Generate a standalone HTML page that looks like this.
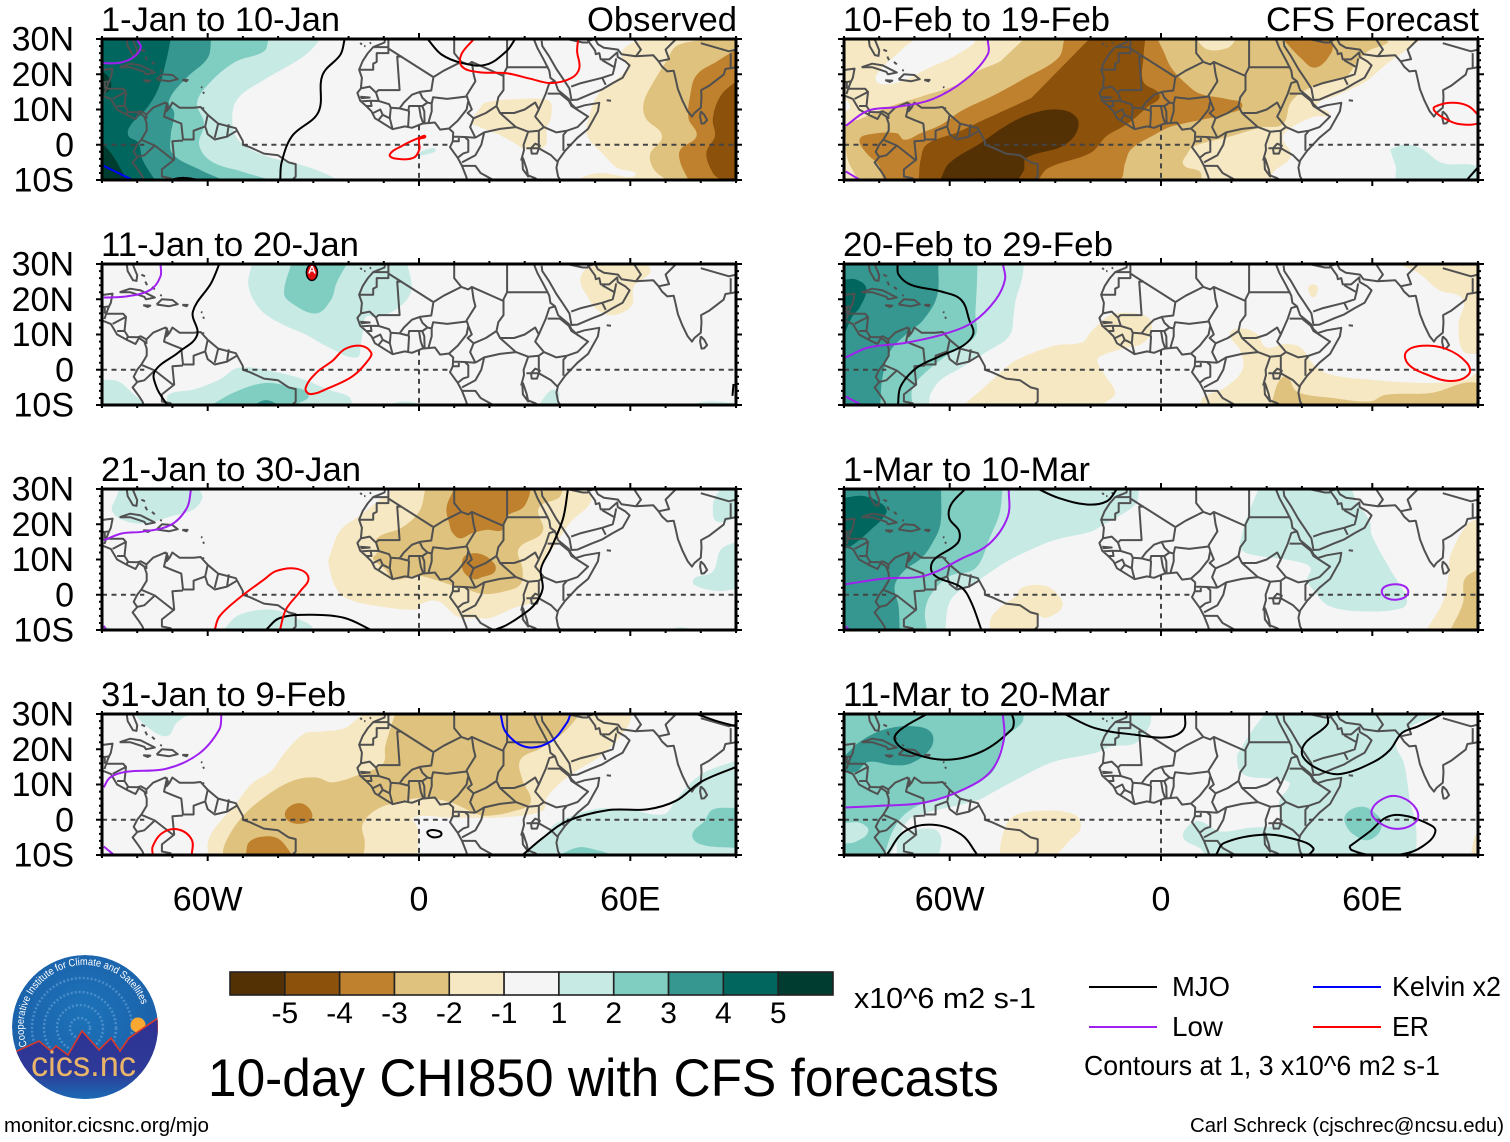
<!DOCTYPE html>
<html lang="en">
<head>
<meta charset="utf-8">
<title>10-day CHI850 with CFS forecasts</title>
<style>
html,body{margin:0;padding:0;background:#fff}
svg{display:block}
text{font-family:"Liberation Sans",sans-serif;fill:#000}
</style>
</head>
<body>
<svg id="chart" xmlns="http://www.w3.org/2000/svg" width="1510" height="1142" viewBox="0 0 1510 1142">
<rect width="1510" height="1142" fill="#fff"/>
<defs>
<radialGradient id="logoSky" cx="50%" cy="40%" r="60%"><stop offset="0" stop-color="#1c72b8"/><stop offset="1" stop-color="#1b5fa8"/></radialGradient>
<linearGradient id="logoGround" x1="0" y1="0" x2="0" y2="1"><stop offset="0" stop-color="#2e3192"/><stop offset=".62" stop-color="#2e3a98"/><stop offset="1" stop-color="#1a72b8"/></linearGradient>
<clipPath id="logoClip"><ellipse cx="85" cy="1027" rx="73" ry="72"/></clipPath>
<path id="logoArc" d="M27,1046 A61,61 0 1 1 144,1012"/>
</defs>
<g clip-path="url(#logoClip)">
<ellipse cx="85" cy="1027" rx="73" ry="72" fill="url(#logoSky)"/>
<g fill="none" stroke="#6fa8dc" stroke-opacity=".55" stroke-dasharray="2 2" stroke-width="2.5">
<circle cx="80" cy="1028" r="10"/><circle cx="80" cy="1028" r="23"/><circle cx="80" cy="1028" r="36"/><circle cx="82" cy="1028" r="50"/>
</g>
<circle cx="138" cy="1025" r="7.5" fill="#f9a832"/>
<path d="M12,1055 L17,1051 L39,1041 L51,1051 L56,1046 L68,1055 L82,1031 L99,1050 L111,1038 L120,1051 L129,1038 L158,1018 L160,1104 L10,1104 Z" fill="url(#logoGround)" stroke="#d8392b" stroke-width="1.6"/>
<text x="31" y="1076" font-size="35" style="fill:#e9b569" textLength="105" lengthAdjust="spacingAndGlyphs">cics.nc</text>
<text font-size="10.5" style="fill:#fff"><textPath href="#logoArc" textLength="190" lengthAdjust="spacingAndGlyphs">Cooperative Institute for Climate and Satellites</textPath></text>
</g>
<g id="panels"></g>
<g id="colorbar"></g>
<text x="854" y="1008" font-size="29" textLength="182" lengthAdjust="spacingAndGlyphs">x10^6 m2 s-1</text>
<text x="208" y="1096" font-size="53" textLength="791" lengthAdjust="spacingAndGlyphs">10-day CHI850 with CFS forecasts</text>
<g>
<line x1="1089" x2="1157" y1="987" y2="987" stroke="#000" stroke-width="2"/>
<text x="1172" y="996" font-size="28" textLength="58" lengthAdjust="spacingAndGlyphs">MJO</text>
<line x1="1313" x2="1381" y1="987" y2="987" stroke="#0000ff" stroke-width="2"/>
<text x="1392" y="996" font-size="28" textLength="109" lengthAdjust="spacingAndGlyphs">Kelvin x2</text>
<line x1="1089" x2="1157" y1="1027" y2="1027" stroke="#a020f0" stroke-width="2"/>
<text x="1172" y="1036" font-size="28" textLength="51" lengthAdjust="spacingAndGlyphs">Low</text>
<line x1="1313" x2="1381" y1="1027" y2="1027" stroke="#ff0000" stroke-width="2"/>
<text x="1392" y="1036" font-size="28" textLength="37" lengthAdjust="spacingAndGlyphs">ER</text>
<text x="1084" y="1075" font-size="28" textLength="356" lengthAdjust="spacingAndGlyphs">Contours at 1, 3 x10^6 m2 s-1</text>
</g>
<text x="4" y="1132" font-size="20" textLength="205" lengthAdjust="spacingAndGlyphs">monitor.cicsnc.org/mjo</text>
<text x="1190" y="1132" font-size="20" textLength="314" lengthAdjust="spacingAndGlyphs">Carl Schreck (cjschrec@ncsu.edu)</text>
</svg>
<script>
// ---- scale / legend data ----
const contourLevels=[-5,-4,-3,-2,-1,0,1,2,3,4,5];
const levelColors=['#543005','#8c510a','#bf812d','#dfc27d','#f6e8c3','#f5f5f5','#c7eae5','#80cdc1','#35978f','#01665e','#003c30'];
const colorbarTicks=[-5,-4,-3,-2,-1,1,2,3,4,5];
const lonTicks=[-60,0,60];
const lonTickLabels=['60W','0','60E'];
const latTicks=[30,20,10,0,-10];
const latTickLabels=['30N','20N','10N','0','10S'];
const waveColors={MJO:'#000000',Low:'#a020f0',Kelvin:'#0000ff',ER:'#ff0000'};
const periodTitles=['1-Jan to 10-Jan','11-Jan to 20-Jan','21-Jan to 30-Jan','31-Jan to 9-Feb','10-Feb to 19-Feb','20-Feb to 29-Feb','1-Mar to 10-Mar','11-Mar to 20-Mar'];
const TL=[-96,36],TR=[96,36],BL=[-96,-16],BR=[96,-16];

// ---- CHI850 anomaly contour regions (lon, lat) ----
const jan01Fills=[
{l:1,p:[[-28,30],[-31,26.5],[-35,23.6],[-44,18.4],[-51.5,13],[-53,6.4],[-51,1],[-44,-3],[-32.6,-6],[-27,-8],[-23,-10]],c:[BL,TL]},
{l:2,p:[[-42.7,30],[-44,26.5],[-52,23.6],[-59,18],[-63,12],[-61,6],[-62.4,0],[-59,-4.7],[-50.4,-7.6],[-42,-10]],c:[BL,TL]},
{l:3,p:[[-59,30],[-60,24.6],[-66,19],[-71,12.5],[-69.5,9],[-70.5,2.5],[-70,-2.5],[-62.4,-7],[-55.6,-10]],c:[BL,TL]},
{l:4,p:[[-70.5,30],[-71.6,24.6],[-74,16],[-77.4,10.2],[-82,5.4],[-82.5,2.5],[-79.7,0.6],[-78.5,-4.2],[-75,-10]],c:[BL,TL]},
{l:5,p:[[-90,0.6],[-87,-3],[-83,-10]],c:[BL]},
{l:5,p:[[-90,21],[-88,19],[-87.5,16],[-90,14]],c:[]},
{l:-1,p:[[73,30],[61.5,29.2],[57.5,26],[59,21.7],[51,14.5],[48.4,8.3],[47.8,2.5],[52.4,-2.8],[56.4,-6.6],[61.5,-8],[60.4,-9.2],[51,-8],[44.3,-10]],c:[BR,TR]},
{l:-2,p:[[85.7,30],[73.6,28.3],[70.2,23.7],[66.7,18],[63.8,12],[64.4,7.5],[69,2.5],[65.6,-2.7],[66.7,-7],[70.2,-10]],c:[BR,TR]},
{l:-3,p:[[90,27],[84.5,23.6],[78.8,19.8],[77,14],[76.5,7.5],[78.8,2.5],[74.2,-1.4],[74.2,-5],[76.5,-10]],c:[BR,TR]},
{l:-4,p:[[90,18],[85.7,14],[83.4,7.5],[84,2.5],[81.6,-2.3],[83.4,-8],[85.7,-10]],c:[BR]},
{l:-1,p:[[16.8,9.7],[19,12],[29.4,13],[35.1,13],[37.4,12],[37.4,7.3],[36.3,5],[35.7,-0.4],[30.6,-1.3],[27,0.5],[22.5,3],[16.8,5.2],[15,6.3]]},
{l:1,p:[[0,-2.3],[4.1,-0.9],[4.7,-1.8],[0.6,-3]]}
];
const jan01Waves=[
{t:'MJO',p:[[-21.1,30],[-22.3,25.6],[-27.4,19.8],[-28.6,9.2],[-36,2.5],[-39,-5],[-39.4,-10]]},
{t:'MJO',p:[[2.4,30],[6.4,25.6],[12.2,23.2],[19,22.7],[24.8,26.5],[27.3,30]]},
{t:'MJO',p:[[-71,-10],[-67,-9.4],[-62.4,-10]]},
{t:'Low',p:[[-80.2,30],[-79,27.5],[-81.4,24.6],[-85.4,23.2],[-90,23.2]]},
{t:'Kelvin',p:[[-89.5,-6],[-81.7,-9.8]]},
{t:'ER',p:[[15.6,30],[12,25.6],[12.2,22.2],[16.8,20.6],[24.8,20.3],[31.7,18.7],[37.4,17.5],[43.2,18.9],[45.5,21.7],[44.9,26.5],[45.2,30]]},
{t:'ER',closed:true,p:[[1.8,2.3],[0.1,2],[-5,-0.4],[-8.3,-2.8],[-6.8,-3.9],[-1.6,-3.7],[0.1,-1.3],[0.1,1.6]]}
];

const jan11Fills=[
{l:1,p:[[-47.5,30],[-48.4,23.7],[-45,17],[-38.3,12.6],[-32.6,10.2],[-25.7,6.4],[-17.7,3.5],[-16.5,7.3],[-15.9,11],[-15,15],[-12,15],[-6.2,17.3],[-2.2,22.4],[-3.3,30]],c:[]},
{l:2,p:[[-36.3,30],[-38.3,21.7],[-36,18.8],[-29.2,16],[-25,19.8],[-23.4,24.6],[-20.5,30]],c:[]},
{l:1,p:[[-90,-2.8],[-85.4,-3.3],[-81.4,-6.6],[-77.4,-10]],c:[BL]},
{l:1,p:[[-71.6,-10],[-71,-7],[-63.6,-5.5],[-56.7,-2.8],[-51,0.6],[-39.5,-0.9],[-32.6,-2.8],[-25.7,-5.7],[-20,-7.6],[-18.8,-10]],c:[]},
{l:2,p:[[-59,-10],[-52,-6.2],[-44,-3.8],[-37.2,-4.7],[-31.4,-7.1],[-35,-10]],c:[]},
{l:3,p:[[-47,-10],[-43.5,-8.6],[-39.5,-10]],c:[]},
{l:1,p:[[34,-10],[37.4,-5.9],[39.7,-6.2],[39.2,-10]],c:[]},
{l:1,p:[[76.5,-10],[82.2,-9],[90,-9.5]],c:[BR]},
{l:1,p:[[-9.6,-10],[-3.9,-9],[1.8,-10]],c:[]},
{l:-1,p:[[48.4,30],[45.8,25.6],[47.8,20.8],[50.6,17],[55.2,15.5],[60.4,18.3],[61,23.7],[65.6,27.5],[65,30]],c:[]}
];
const jan11Waves=[
{t:'Low',p:[[-73.4,30],[-73.4,26.5],[-76.2,22.7],[-83,20.8],[-89.5,20.5]]},
{t:'MJO',p:[[-56.7,30],[-59,24.6],[-64.2,16.5],[-63,9.8],[-68.2,5],[-75,-0.4],[-74.5,-5],[-71.6,-9.8]]},
{t:'MJO',p:[[89.3,-4],[89,-7.4]]},
{t:'ER',closed:true,p:[[-16.5,6.8],[-21,5.9],[-24.6,2.5],[-29.2,-0.9],[-32.2,-5.2],[-30.9,-6.9],[-25.7,-5.2],[-18.8,-1.8],[-14.2,3],[-13.6,4.9]]}
];

const jan21Fills=[
{l:1,p:[[-85,30],[-86,27.5],[-87.1,23.7],[-83,20.8],[-77.4,20.3],[-70.5,22.2],[-64.2,24.1],[-61.5,27.5],[-62.4,30]],c:[]},
{l:1,p:[[-55.6,-10],[-51,-5.7],[-41.8,-4.2],[-36,-6.2],[-30.3,-9],[-31.4,-10]],c:[]},
{l:1,p:[[-90,-8.5],[-86.5,-10]],c:[BL]},
{l:1,p:[[85.7,30],[84,27.5],[83.4,24.6],[84.5,20.8],[90,21.7]],c:[TR]},
{l:1,p:[[90,15],[85.7,12.8],[83.4,6.6],[78.2,4.7],[78.2,2.8],[84.5,1.1],[90,1.6]],c:[]},
{l:1,p:[[70.7,-10],[74.2,-9.2],[78.8,-10]],c:[]},
{l:-1,p:[[-7.3,30],[-16.5,22.7],[-22.3,18.3],[-25,12],[-25.7,8.9],[-23.4,1.6],[-20,-1.3],[-11.9,-3.2],[-0.4,-4.2],[0.1,-2.8],[5.3,-1.8],[11,-6.2],[16.8,-6.6],[20.2,-6.6],[27.1,-3.7],[33.4,-1.3],[34.6,5.4],[34.6,8.3],[38.6,14],[43.2,20.8],[48.9,26.5],[47.2,30]],c:[]},
{l:-2,p:[[1.8,30],[0.1,23.7],[-5,19],[-11.9,16],[-11.9,12],[-13,10.2],[-9.6,7.3],[-7.3,4.4],[-0.4,5.4],[4.1,4.4],[9.9,2.5],[13.3,1.6],[18.5,0.2],[24.8,1.1],[28.8,3],[29.4,7.3],[28.3,13],[35.1,17.9],[34,24.6],[39.7,27.5],[40.9,30]],c:[]},
{l:-3,p:[[9.9,30],[7.8,24.6],[8.7,19.8],[9.3,17.9],[11.6,16],[15,17.4],[19.1,18.4],[23.7,18.4],[24.8,22.2],[29.4,24.6],[31.1,27.5],[31.7,30]],c:[]},
{l:-3,p:[[12.2,9.2],[13.3,11.2],[17.4,11.6],[21.4,8.8],[21.4,6.4],[17.9,5],[15.6,4.4],[12.8,6.3]]}
];
const jan21Waves=[
{t:'Low',p:[[-64.7,30],[-65.9,24.6],[-70.5,19.8],[-78.5,17.9],[-84.3,17.4],[-89.5,15.5]]},
{t:'Low',p:[[-89.5,-8.8],[-88.8,-10]]},
{t:'MJO',p:[[42.3,30],[40.9,21.7],[37.4,13],[34.6,7.3],[35.1,1.6],[32.8,-2.8],[29.4,-5.7],[24.8,-8.6],[21.4,-10]]},
{t:'MJO',p:[[-43.5,-10],[-39.5,-6.6],[-30.3,-5.7],[-21.1,-6.6],[-13.6,-10]]},
{t:'ER',p:[[-58,-10],[-56.7,-6.2],[-51,-0.9],[-44,4.3],[-40.6,6.7],[-34.9,7.4],[-31.4,4.9],[-33.7,1],[-37.8,-4.2],[-39.5,-10]]}
];

const jan31Fills=[
{l:1,p:[[-80.8,30],[-77.4,26.5],[-71.6,23.7],[-68.8,27.5],[-65.3,30]],c:[]},
{l:-1,p:[[-14.2,30],[-16.5,29.4],[-21.1,26],[-28,25],[-32.6,24.4],[-38.3,18.8],[-41.8,14],[-47.5,10.2],[-52.1,4.4],[-57.9,-2.3],[-59.9,-6.2],[-59.9,-10]],c:[[-0.4,-16]]},
{l:-1,p:[[-0.4,-10],[-0.4,-2.3],[-1.6,0.6],[8.7,0.6],[14.5,0.6],[22.5,0.6],[35.1,2.5],[36.3,6.3],[42,12],[52.4,18.8],[59.3,26.5],[60.4,30]],c:[[-14.2,30],[-14.2,-10]]},
{l:-2,p:[[-6.8,30],[-9.6,20.8],[-10.2,16],[-16.5,13],[-24.6,10.6],[-29.2,12],[-36,11],[-44,6.3],[-50.4,0.6],[-55,-6.6],[-55,-10],[-16.5,-10],[-15.4,-6.6],[-16,-1.3],[-11.9,3],[-5,5.2],[0.7,6.2],[8.7,5],[15.6,2],[19,1.1],[27.1,2.5],[31.7,5],[29.4,11.2],[28.8,17],[34.6,20.3],[40.9,24.6],[44.9,29],[45.5,30]],c:[]},
{l:-3,p:[[-38.1,1.5],[-36,4.2],[-32.6,4.4],[-30.3,1.5],[-31.4,-0.6],[-36,-0.9]]},
{l:-3,p:[[-49.2,-10],[-48.1,-6.2],[-43,-4.7],[-39.5,-5.7],[-36,-10]],c:[]},
{l:1,p:[[29.4,-10],[35.1,-5.2],[39,-1],[50,3],[60,2.8],[69.6,1.6],[73,5.8],[80,12.8],[90,16.8]],c:[BR]},
{l:2,p:[[39.7,-10],[45.5,-7.8],[51.2,-8.8],[55.2,-10]],c:[]},
{l:2,p:[[90,3.4],[83.4,2.9],[81,-0.4],[77.6,-4.2],[80,-7],[90,-8]],c:[]}
];
const jan31Waves=[
{t:'Low',p:[[-56.1,30],[-56.7,25.6],[-62.4,18.8],[-71.6,14.5],[-83.1,13.6],[-87.7,12],[-89.5,9.2]]},
{t:'Low',p:[[-89.5,-7.6],[-86.6,-10]]},
{t:'Kelvin',p:[[23.1,30],[24.8,24.6],[30.6,20.6],[37.4,22.2],[42,27.5],[43,30]]},
{t:'ER',p:[[-75.6,-10],[-75.6,-7.6],[-72.8,-3.7],[-68.2,-2.8],[-64.5,-5.7],[-64.5,-10]]},
{t:'MJO',closed:true,p:[[2.5,-3.3],[4.7,-3],[6.4,-4],[4.7,-5],[2.8,-4.4]]},
{t:'MJO',p:[[29.4,-10],[35.1,-5.2],[42,-0.4],[53.5,2.7],[65,3],[73,5.4],[80,10.7],[90,15]]},
{t:'MJO',p:[[78.8,30],[84.5,28],[90,26.5]]}
];

const feb10Fills=[
{l:-1,p:[[74.2,30],[68.4,26],[63.8,22.7],[58.1,17.9],[50,14],[44.3,11.2],[47.8,8.8],[43.2,7.9],[35.7,4],[34.6,1.6],[36.9,-3.2],[31.7,-8],[31.7,-10]],c:[BL,TL]},
{l:0,p:[[-75.1,25.6],[-68.8,30],[-53.3,30],[-57.9,25.6],[-67,21.3],[-73.9,17.9],[-80.2,17.4],[-80.8,19.8]]},
{l:0,p:[[-90,12.6],[-88.3,11],[-89.4,9.7]]},
{l:-2,p:[[-38.9,30],[-44,24.6],[-52.1,20.8],[-57.9,17],[-67,14],[-77.4,10.7],[-85.4,7.3],[-89.5,5.5],[-89.5,2],[-89,-4],[-86,-10]],c:[[11.6,-16],[11.6,-10]]},
{l:-2,p:[[11.6,-10],[11,-7.6],[6.4,-5.7],[7.6,-2.3],[9.3,-0.4],[20.2,2.5],[28.3,4.9],[34.6,5.9],[36.9,12.1],[42,16],[52.4,19.3],[55.2,22.7],[58.7,26.5],[64.4,28.9],[63.8,30]],c:[[-38.9,30],[-60,10],[-40,-10]]},
{l:-1,p:[[9.9,30],[13.3,27],[19,27.5],[21.4,30]],c:[]},
{l:-3,p:[[-27.4,30],[-29.2,24.6],[-39.5,18.4],[-47.5,14],[-56.7,9.6],[-62.4,5.7],[-68.2,3.3],[-72.8,1.4],[-75.1,3.3],[-83.1,2.9],[-85.6,1.4],[-83.7,-2.3],[-80.2,-5.7],[-77.9,-10],[-40,-10.5],[-12,-10],[-10.2,-5.2],[-8.5,-1.3],[-1.6,3],[3,5.2],[11,7],[19,8.8],[23.1,11.2],[19,12.9],[11,14.5],[7,17.4],[3,21.7],[0.7,26.5],[-1,30]],c:[]},
{l:-3,p:[[35.1,29.4],[39.7,24.6],[43.8,21.9],[48.3,26],[48.9,30]],c:[[35.1,31]]},
{l:-4,p:[[-19.4,30],[-18.2,23.7],[-26.9,18],[-36,13.6],[-49.8,7.3],[-57.9,3.5],[-66.5,0.1],[-68.2,-4],[-68.8,-10]],c:[[-34.9,-14],[-34.9,-10]]},
{l:-4,p:[[-34.9,-10],[-32,-6.6],[-20,-2.3],[-15.4,2.5],[-9.6,5.9],[-3.9,10.7],[-0.4,14],[-5,17.9],[-5,24.6],[-4.5,30]],c:[[-19.4,31],[-40,10],[-68.8,-10]]},
{l:-5,p:[[-62.7,-10],[-60.1,-5.2],[-51,0.6],[-44,5.4],[-37.2,8.7],[-29.2,10],[-24,7.8],[-24,3.5],[-28,-0.4],[-38.3,-3.8],[-38.9,-7.1],[-40.6,-10]],c:[]},
{l:1,p:[[65,-1.3],[69.6,0.1],[74.2,-1.3],[79.9,-5.2],[90,-6.2],[90,-10],[67.3,-10],[66.7,-6.2]],c:[]}
];
const feb10Waves=[
{t:'Low',p:[[-49.2,30],[-49.2,25.6],[-55.6,18.4],[-64.7,13],[-75.1,10.7],[-83.1,9.7],[-89.5,5.4]]},
{t:'Low',p:[[-89.5,-7.6],[-85.4,-10]]},
{t:'ER',closed:true,p:[[77.6,10.7],[82.2,11.9],[86.8,11.2],[89.7,8.8],[91,6.5],[84.5,5.9],[79.9,7.8],[77.6,9.7]]},
{t:'MJO',p:[[86.8,-10],[90,-6.4]]}
];

const feb20Fills=[
{l:1,p:[[-38.9,30],[-39.5,25.6],[-41.2,20],[-41.8,16],[-43,9.7],[-49.8,4.9],[-56.7,0.6],[-62.4,-2.8],[-65.3,-6.6],[-65.9,-10]],c:[BL,TL]},
{l:2,p:[[-52.1,30],[-52.3,23.7],[-52.7,16],[-52.7,9.7],[-59,5.4],[-66.5,-0.4],[-70.5,-5.2],[-70.7,-10]],c:[BL,TL]},
{l:3,p:[[-63.2,30],[-63.6,20.8],[-67.6,14],[-71.6,10.7],[-76.8,5.4],[-79.1,-2.3],[-79.7,-10]],c:[BL,TL]},
{l:4,p:[[-90,25.6],[-86.6,25.6],[-83.7,23.2],[-85.4,17.9],[-87.7,15],[-90,9.7]],c:[]},
{l:-1,p:[[-56.1,-10],[-51,-5.7],[-44,0.6],[-40.6,3],[-30.3,6.8],[-22.3,7.8],[-20,10.6],[-16.5,14],[-13,16],[-3.9,15],[-2.7,10.7],[-5.6,7.3],[-10.8,6],[-17.7,3.5],[-17.9,1.6],[-15.4,-2.3],[-13,-6.6],[-15.4,-9],[-17.7,-10]],c:[]},
{l:-1,p:[[11,-10],[12.2,-7.6],[17.9,-5.2],[23.1,0],[22.5,5.4],[19.6,10.2],[23.1,11.7],[27.1,10.2],[30,6.3],[35.1,7.3],[39.7,6.3],[43.2,1.6],[47.8,-1.3],[59.3,-2.8],[76.5,-3.8],[86.8,-2.8],[90,-1.3],[90,-10]],c:[]},
{l:-1,p:[[68.4,29.6],[73,27.5],[78.8,22.7],[85.7,20],[84.5,13],[85.7,5.4],[90,4.4]],c:[TR,[68.4,36]]},
{l:-1,p:[[42,23.7],[44.3,23.7],[43.8,20.8],[42.6,20.8]]},
{l:-2,p:[[31.1,-10],[35.1,-1.8],[38.6,-6.2],[48.9,-8],[59.3,-9],[63.8,-7.1],[76.5,-6.6],[90,-3.8],[90,-10]],c:[]}
];
const feb20Waves=[
{t:'MJO',p:[[-74.8,30],[-74.5,27],[-71,24.1],[-62.4,22.2],[-56.7,19.8],[-54.4,14],[-53.3,10.2],[-56.1,6.9],[-62.4,4],[-69.3,0.6],[-73.9,-4.7],[-74.7,-10]]},
{t:'Low',p:[[-44.9,30],[-44.3,25.6],[-47,19.8],[-53.3,13.6],[-61.3,10.2],[-72.8,7.6],[-83.1,6.3],[-89.5,3.5]]},
{t:'Low',p:[[-89.5,-7.6],[-85.4,-9.8]]},
{t:'ER',closed:true,p:[[69.6,5],[74.2,6.8],[81,5.9],[86.8,2],[87.4,-1.3],[82.2,-3.2],[75.3,-1.3],[70.2,1.6]]}
];

const mar01Fills=[
{l:1,p:[[-6.2,30],[-7.3,25.6],[-16.5,19.8],[-20,17.9],[-30.3,15.5],[-38.3,12.2],[-44,9.3],[-52.1,4],[-56.7,1.5],[-60.1,-2.3],[-61.3,-10]],c:[BL,TL]},
{l:1,p:[[27.7,30],[25.4,24.6],[23.7,20],[23.1,17.4],[22.5,13.5],[24.8,11.6],[34,10.2],[40.9,8.8],[42.6,7.3],[41.5,4.4],[43.8,0.6],[47.8,-3.2],[57,-4.7],[68.4,-3.8],[69.8,-1.3],[65,7.3],[59.8,17],[59.3,20.8],[55.8,26],[54.1,30]],c:[]},
{l:2,p:[[-45,30],[-45.8,23.2],[-48.7,16],[-52.7,7.5],[-60.1,5.2],[-65.3,0.1],[-67,-4.7],[-66.5,-10]],c:[BL,TL]},
{l:3,p:[[-62.4,30],[-62.7,19.8],[-65.3,14],[-68.2,10.2],[-72.8,6.9],[-75.6,2.5],[-74.5,-3.3],[-74.2,-10]],c:[BL,TL]},
{l:4,p:[[-90,27.5],[-84.3,28],[-79,25.6],[-78,23.2],[-83,17.9],[-87.7,14],[-90,13]],c:[]},
{l:-1,p:[[-48.7,-10],[-48.1,-6.2],[-44,-2.3],[-41.2,-0.4],[-39.5,2],[-33.7,2.7],[-30.3,1.1],[-28,-3.3],[-32.6,-6.6],[-34.9,-6.2],[-34.9,-10]],c:[]},
{l:-1,p:[[90,21.7],[86.8,19.8],[82.2,11.2],[81.6,5.4],[79.9,-2.3],[75.3,-10]],c:[BR,[96,21.7]]},
{l:-2,p:[[90,7.3],[86.2,4.4],[85.7,-2.3],[82.2,-10]],c:[BR,[96,7.3]]}
];
const mar01Waves=[
{t:'MJO',p:[[-55.6,30],[-59.6,25.6],[-60.1,21.7],[-57.3,18],[-57.9,14.5],[-64.2,10.2],[-65.3,7.3],[-63.6,5],[-56.7,2.1],[-53.8,-2.3],[-51,-10]]},
{t:'MJO',p:[[-34.9,30],[-29.2,27.5],[-21.1,25.6],[-15.4,26.5],[-12.5,30]]},
{t:'Low',p:[[-43.2,30],[-43.5,22.2],[-48.7,14.5],[-56.7,10.2],[-67,5.4],[-78.5,4.6],[-89.5,3]]},
{t:'Low',p:[[-89.5,-9],[-88.5,-10]]},
{t:'Low',closed:true,p:[[62.7,1.1],[65,2.8],[69,2.5],[70.2,0.6],[68.4,-1.1],[64.4,-1.1]]}
];

const mar11Fills=[
{l:1,p:[[-2.7,30],[-3.3,26.5],[-7.3,21.7],[-14.2,20.8],[-18.8,18.9],[-30.3,16.5],[-39.5,12.2],[-47.5,7.9],[-52.1,5.5],[-67,1.9],[-71.6,0],[-74.5,-5.2],[-76.8,-10]],c:[BL,TL]},
{l:1,p:[[-75,-10],[-74.5,-5.2],[-69.3,-2.8],[-64.2,-2.8],[-62.4,-5.2],[-63,-10]],c:[]},
{l:1,p:[[29.4,30],[25.4,24.6],[23.1,20.7],[21.6,17.9],[23.1,13],[31.7,11.6],[36.3,10.6],[35.7,8.3],[34,6.3],[33.4,3.5],[34,-0.4],[31.7,-1.8],[24.8,-2.3],[16.8,-3.3],[11,-0.4],[7.6,-1.8],[6.4,-5.2],[11,-8],[13.3,-10],[70.7,-10],[72.5,-3.3],[70.7,5.4],[69,16],[66.7,21.7],[69.6,25.6],[78.8,30]],c:[]},
{l:2,p:[[-38.9,30],[-39.5,27.5],[-44.6,22.7],[-47.5,14],[-52.1,10.7],[-59,7.3],[-67,4.9],[-72.8,1.5],[-76.2,-3.3],[-78.5,-10]],c:[BL,TL]},
{l:1,p:[[-90,-0.9],[-85.4,-0.9],[-83.1,-3.3],[-86.6,-6.2],[-90,-6.8]],c:[]},
{l:3,p:[[-90,17.9],[-85.4,22.2],[-78.5,25.6],[-70.5,26.5],[-65.3,24.8],[-65.3,20.4],[-71,16],[-76.2,15.5],[-83.1,16.4],[-86.6,13.6],[-90,13.6]],c:[]},
{l:2,p:[[52.4,1.5],[55.8,3.6],[59.3,3],[62.7,-1.3],[59.3,-5.7],[54.7,-4.2],[52.4,-1.3]]},
{l:-1,p:[[88,-10],[89,-5],[90,-4],[90,-10]],c:[]},
{l:-1,p:[[-45.8,-10],[-45.2,-5.2],[-42.4,0.6],[-34.9,2.5],[-24.6,1.5],[-22.8,-2.3],[-25.7,-5.7],[-29.7,-10]],c:[]}
];
const mar11Waves=[
{t:'MJO',p:[[-66.5,30],[-73.9,25.6],[-75.6,22.7],[-71.6,19.3],[-61.3,17],[-51,19.3],[-42.4,25.6],[-41.8,27.9],[-42.4,30]]},
{t:'MJO',p:[[-27.4,30],[-18.8,26],[-7.3,24.1],[1.8,23.4],[6.4,25.6],[6.8,30]]},
{t:'MJO',p:[[-77.9,-10],[-72.8,-3.3],[-64.7,-1.4],[-56.7,-4.2],[-52.1,-10]]},
{t:'MJO',p:[[15.6,-10],[17.9,-6.6],[29.4,-4.2],[38.6,-5.7],[43.2,-8],[42,-10]]},
{t:'MJO',p:[[47.2,30],[47.2,27],[40.9,21.7],[40.3,17.9],[45.5,14],[51.2,13],[60.4,16.4],[65,19.8],[68.4,24.6],[73,26.5],[79.9,30]]},
{t:'MJO',p:[[53.5,-7.6],[59.3,-3.3],[63.8,0.6],[68.4,1.3],[75.3,-0.9],[77.9,-3.3],[74.2,-7.6],[68.4,-9.8],[59.3,-10],[54.1,-8.6],[53.5,-7.6]]},
{t:'Low',p:[[-44.9,30],[-44.6,22.7],[-48.1,14],[-55.6,8.8],[-67,4.9],[-80.8,3.9],[-89.5,3.5]]},
{t:'Low',closed:true,p:[[59.8,2.5],[63.8,6.3],[68.4,6.3],[72.5,3],[72.5,-0.4],[67.3,-2.6],[62.1,-0.9]]}
];

const panelFills=[jan01Fills,jan11Fills,jan21Fills,jan31Fills,feb10Fills,feb20Fills,mar01Fills,mar11Fills];
const panelWaves=[jan01Waves,jan11Waves,jan21Waves,jan31Waves,feb10Waves,feb20Waves,mar01Waves,mar11Waves];
const maxCenterLonLat=[-30.4,27.6];

// ---- geography (lon, lat polylines) ----
const coastlines=[
[[-9.6,30.4],[-9.8,29],[-13,27.7],[-14.5,26],[-16,23.7],[-17,21.3],[-16.2,19],[-16.5,16],[-17.5,14.7],[-16.7,12.5],[-15,11],[-13.5,9.5],[-12.5,7.5],[-11.3,6.8],[-7.5,4.4],[-4,5.2],[-2,4.8],[1,6],[4.5,6.3],[6,4.3],[8.5,4.6],[9.7,3.5],[9.6,1],[8.8,-0.7],[11,-3.7],[12.2,-6],[13.4,-9],[13.8,-10.5]],
[[32.5,30.2],[33.6,27.5],[35.5,24],[37,21],[37.3,19],[38.6,18],[39.5,15.5],[42.5,13],[43.3,11.5],[44.5,10.4],[47,11.2],[51.2,11.9],[50.8,9.5],[48,4.5],[45,2],[41.5,-1.7],[39.5,-4.5],[39,-6.5],[39.5,-9],[40.4,-10.5]],
[[34.8,29.5],[35,28],[37,25],[39,21.5],[40.7,19],[42.7,16],[43.3,12.7],[45,12.8],[49,14.5],[52,15.7],[55,17.5],[57.8,19],[59.8,22.5],[58.5,23.7],[56.4,24.9],[56.3,26.2],[54,24.2],[51.6,24.2],[51.2,26],[50.2,25.7],[50,26.7],[48,29.5],[50,30],[50.8,28.5],[52.5,27.5],[56.5,27],[57.5,25.7],[61.5,25.1],[66.5,25.4],[68,23.7],[69,22.2],[70.5,20.8],[72.3,21],[72.8,19],[73.5,15.8],[74.8,12.5],[76.3,9.5],[77.5,8],[78.2,9],[80,10.5],[80.2,13.5],[80.1,15.5],[82.3,16.7],[86.5,19.9],[87,21.5],[89,21.8],[91.5,22.5]],
[[80,9.5],[81,8.5],[81.8,7],[81,6.1],[80.2,6],[79.8,8],[80,9.5]],
[[-90,21.2],[-87,21.6],[-87.5,19],[-88.2,17.5],[-88.8,15.9],[-84,15.9],[-83.2,15],[-83.6,11],[-82.5,9.3],[-80,9.2],[-79,9.5],[-77.4,8.6],[-75.5,10.5],[-72,12],[-71.3,11],[-71.7,9.5],[-70.8,10.5],[-70,12],[-68,10.5],[-64,10.5],[-62,10.7],[-60,8.5],[-57,6],[-52,4.7],[-50,1],[-50,0],[-48,-0.7],[-44,-2.5],[-40,-3],[-37,-5],[-35,-5.5],[-35,-9],[-36.5,-10.5]],
[[-90,14],[-87.5,13],[-85.7,10],[-83,8.5],[-80.5,7.3],[-79.5,9],[-78,8],[-77.3,6],[-77.3,4],[-78.8,1.5],[-80,0],[-81,-2],[-80,-3.5],[-81.3,-5],[-79.5,-7.5],[-78.5,-9],[-78,-10.5]],
[[-85,22],[-82,23],[-79,22.5],[-75,20.5],[-77.5,20],[-78,20.7],[-82,22],[-85,22]],
[[-74.5,18.5],[-73,20],[-70,19.8],[-68.5,18.6],[-71,18],[-74.5,18.5]],
[[-78.3,18.3],[-76.3,18.2],[-77,17.8],[-78.3,18.3]],
[[-67.2,18.4],[-65.7,18.4],[-66,18],[-67.2,18.4]],
[[-83,30],[-82.7,28],[-81.2,25.4],[-80.2,25.2],[-80,26.8],[-81.3,30]],
[[-78.8,27],[-77.8,26.5]],[[-77.7,25],[-77.2,24]],[[-75.8,23.5],[-75,22.8]],[[-73.5,21.2],[-73,21]],
[[-61.9,16.4],[-61.5,16.2]],[[-61.3,15],[-61,14.5]],[[-61.5,10.5],[-61,10.2]],
[[-16.7,28.9],[-16.2,28.4]],[[-15.6,28],[-15.2,28]],[[-14,28.7],[-13.6,29]],
[[53.3,12.6],[54.5,12.5]],
[[31.8,-1],[33,0.3],[34.3,-0.2],[33.5,-2.5],[32,-2.5],[31.8,-1]],
[[29.3,-3.5],[29.5,-7],[31,-9],[30.6,-7],[29.6,-4],[29.3,-3.5]]
];
const borders=[
[[-13,27.7],[-8.7,27.7],[-8.7,26],[-12,26],[-12,23.5],[-13,23],[-13,21.3],[-17,21.3]],
[[-8.7,27.3],[4.1,19.2]],[[-8.7,27.7],[-8.7,30]],
[[-4.8,25],[-6.2,25],[-5.5,15.5],[-9.4,15.5],[-11.5,15.5],[-12.2,14.8]],
[[-16.5,16],[-14,16.5],[-12.2,14.8],[-11.4,12.4],[-8.5,11.5],[-8,10.5],[-5.5,10.3],[-4.3,12],[-2,14.2],[0.2,15],[3.5,15.4],[4.1,19.2]],
[[4.1,19.2],[7,21],[12,23.5],[14,22.8],[15,23.5],[24,19.5]],[[10,30],[10,26],[12,23.5]],
[[25,30],[25,22],[24,20],[24,15.5],[22.5,13.5],[22,11],[23,9],[27.5,5]],[[25,22],[36.8,22]],
[[15,23.5],[15.5,20],[16,18],[13.5,14],[14,12.5],[15,10],[13.8,9],[15.5,7.5]],
[[13.5,13.7],[8,13],[4,13.5],[3.6,11.7],[3.6,9.5],[2.7,6.3]],
[[0.2,15],[1,13.3],[2.4,12],[3.6,11.7]],[[1,13.3],[2.4,12],[1,11],[-2.8,11],[-3,9.7],[-5.5,10.3]],
[[1.6,6.2],[1.5,9.5],[0.9,11]],[[1.2,6.1],[0.5,8],[0,11]],[[-3.1,5.1],[-2.8,9.7]],
[[-7.5,4.4],[-8.3,7.5],[-8,10.5]],[[-11.5,7],[-10.3,8.5],[-8.3,7.5]],[[-13,9],[-11,10],[-10.3,8.5]],
[[-16.7,12.3],[-13.7,12.5],[-13.5,11],[-15,11]],[[-13.7,12.5],[-11.4,12.4]],[[-16.7,13.6],[-14,13.4],[-16.5,13.2]],
[[8.6,4.7],[11,6.8],[13.5,10],[14,12.5]],[[15.5,7.5],[14.5,5],[16,2]],[[9.8,2.3],[13,2.2],[16,2]],
[[11,-3.7],[12.5,-2.5],[14,-2],[14,1.3],[13,2.2]],[[9.7,1],[11.3,1],[11.3,2.2]],
[[16,2],[18.5,3.5],[23,4.5],[27.5,5]],[[12.2,-5],[16,-3],[17.7,0],[18.5,3.5]],
[[12.3,-6],[16,-6],[17.5,-8],[22,-10.5]],[[22,11],[19,9],[15.5,7.5]],
[[23,9],[27,9],[30,10],[33,12],[34,10],[36,14.5],[37,17.5],[38.6,18]],[[27.5,5],[31,3.7],[34,4],[35.5,5],[39,3.5],[42,4],[41,2.8],[41,-1.7]],
[[34,10],[33,8],[35.5,5]],[[36.5,14.5],[40,14.5],[42.5,12.5],[43.3,11],[48,8],[45,5],[42,4]],
[[34,4],[34,-1],[37.5,-3],[39.2,-4.7]],[[30.5,-1],[34,-1]],[[31,3.7],[29.7,0],[29.8,-1.5],[29,-4.5]],
[[31,-8.7],[33,-9.5],[34.5,-10.5]],
[[43.2,16.5],[46,17.5],[52,19],[53,17]],[[52,19],[55,20],[55.5,22],[52,24]],[[55.5,22],[56,24.5]],
[[36,30],[37.5,30],[42,30],[46.5,29],[48,29]],
[[61.5,25],[63,27],[61,30]],[[68.2,23.7],[71,24.3],[70,27],[73,30]],[[80,28.8],[88,26.5],[90,27]],[[88.5,26],[88.5,22]],
[[-90,17.8],[-89.2,17.8],[-88,18]],[[-89.2,15.9],[-89.2,17.8]],[[-88.8,15.9],[-89.3,14.4]],[[-83.2,15],[-87,13]],[[-83.6,11],[-85.7,11]],[[-83,8.5],[-82.7,9.5]],[[-77.4,8.6],[-77.4,7.3]],
[[-71.5,12],[-72.4,8],[-70,7],[-67.5,6],[-67,1.5],[-64,1.5],[-64,4],[-60.7,5.2],[-60,8.5]],
[[-67,1.2],[-70,1],[-69.5,-4.2],[-73,-7],[-73,-9],[-70.5,-9.5],[-70.5,-11]],[[-69.9,-4.2],[-75,-0.2],[-78.8,1.4]],[[-75,-0.2],[-78,-3],[-80.3,-3.5]],
[[-60.7,5.2],[-60,3],[-58,1.5],[-54.5,2.3],[-51.7,4]],[[-57,6],[-58,2]],[[-54,5.8],[-54.5,2.3]],[[-69,-11],[-65.5,-10]]
];
const maritimeEquator=[[-90,-78],[-50,9],[42,90]];
const primeMeridianLat=[5.5,-10];

// ---- layout ----
const SVGNS='http://www.w3.org/2000/svg';
const root=document.getElementById('panels');
const W=634,H=141;
const cols=[102,844],tops=[39,264,489,714];
const ends=['Observed','CFS Forecast'];
const endWidths=[150,213];
const titleWidths=[239,258,260,245,267,270,247,267];
function mk(tag,attrs,parent){const e=document.createElementNS(SVGNS,tag);for(const k in attrs)e.setAttribute(k,attrs[k]);parent.appendChild(e);return e;}
function fmt(v){return Math.round(v*10)/10;}
function smooth(pts,closed){
  const n=pts.length,seg=closed?n:n-1;
  const at=i=>closed?pts[(i+n)%n]:pts[Math.max(0,Math.min(n-1,i))];
  const unit=(a,b)=>{const dx=b[0]-a[0],dy=b[1]-a[1],d=Math.hypot(dx,dy)||1;return [dx/d,dy/d];};
  let s='M'+fmt(pts[0][0])+' '+fmt(pts[0][1]);
  for(let i=0;i<seg;i++){
    const p0=at(i-1),p1=at(i),p2=at(i+1),p3=at(i+2);
    const d=Math.hypot(p2[0]-p1[0],p2[1]-p1[1])*0.35;
    const t1=unit(p0,p2),t2=unit(p1,p3);
    s+='C'+fmt(p1[0]+t1[0]*d)+' '+fmt(p1[1]+t1[1]*d)+' '+fmt(p2[0]-t2[0]*d)+' '+fmt(p2[1]-t2[1]*d)+' '+fmt(p2[0])+' '+fmt(p2[1]);
  }
  return s+(closed?'Z':'');
}
periodTitles.forEach((title,i)=>{
  const col=i<4?0:1,row=i%4,x0=cols[col],y0=tops[row];
  const xScale=lon=>x0+(lon+90)*W/180;
  const yScale=lat=>y0+(30-lat)*H/40;
  const toPx=p=>[xScale(p[0]),yScale(p[1])];
  const g=mk('g',{},root);
  
  
  const clip=mk('clipPath',{id:'clip'+i},g);
  mk('rect',{x:x0,y:y0,width:W,height:H},clip);
  const bg=mk('rect',{x:x0,y:y0,width:W,height:H,fill:levelColors[5]},g);
  
  
  const body=mk('g',{'clip-path':'url(#clip'+i+')'},g);
  panelFills[i].forEach(f=>{
    let d;
    if(f.c){d=smooth(f.p.map(toPx),false)+f.c.map(toPx).map(q=>'L'+fmt(q[0])+' '+fmt(q[1])).join('')+'Z';}
    else{d=smooth(f.p.map(toPx),true);}
    const path=mk('path',{d:d,fill:levelColors[contourLevels.indexOf(f.l)]},body);
    
    
  });
  let land='';
  coastlines.concat(borders).forEach(line=>{
    land+=line.map((p,k)=>(k?'L':'M')+fmt(xScale(p[0]))+' '+fmt(yScale(p[1]))).join('');
  });
  const landPath=mk('path',{d:land,fill:'none',stroke:'#505050','stroke-width':2,'stroke-linejoin':'round'},body);
  
  
  maritimeEquator.forEach(r=>{
    const eq=mk('line',{x1:xScale(r[0]),x2:xScale(r[1]),y1:yScale(0),y2:yScale(0),stroke:'#444','stroke-width':2,'stroke-dasharray':'5 4.5'},body);
    
    
  });
  const pm=mk('line',{x1:xScale(0),x2:xScale(0),y1:yScale(primeMeridianLat[0]),y2:yScale(primeMeridianLat[1]),stroke:'#444','stroke-width':2,'stroke-dasharray':'5 4.5'},body);
  
  
  panelWaves[i].forEach(w=>{
    const wave=mk('path',{d:smooth(w.p.map(toPx),!!w.closed),fill:'none',stroke:waveColors[w.t],'stroke-width':2},body);
    
    
  });
  if(i===1){
    const mx=xScale(maxCenterLonLat[0]),my=yScale(maxCenterLonLat[1]);
    const mark=mk('ellipse',{cx:mx,cy:my,rx:5.5,ry:8,fill:'#e01010',stroke:'#000','stroke-width':1.5},body);
    
    
    const markText=mk('text',{x:mx,y:my+1,'font-size':11,'font-weight':'bold','text-anchor':'middle',style:'fill:#fff'},body);
    
    
    markText.textContent='A';
  }
  const frame=mk('rect',{x:x0,y:y0,width:W,height:H,fill:'none',stroke:'#000','stroke-width':3},g);
  
  
  let ticks='';
  for(let lon=-90;lon<=90;lon+=10){
    const len=lonTicks.indexOf(lon)>=0?6:3,px=fmt(xScale(lon));
    ticks+='M'+px+' '+y0+'v-'+len+'M'+px+' '+(y0+H)+'v'+len;
  }
  for(let lat=-10;lat<=30;lat+=2){
    const len=lat%10===0?6:3,py=fmt(yScale(lat));
    ticks+='M'+x0+' '+py+'h-'+len+'M'+(x0+W)+' '+py+'h'+len;
  }
  const tickPath=mk('path',{d:ticks,stroke:'#000','stroke-width':2,fill:'none'},g);
  
  
  const tt=mk('text',{x:x0-1,y:y0-8,'font-size':34,textLength:titleWidths[i],lengthAdjust:'spacingAndGlyphs'},g);
  
  
  tt.textContent=title;
  if(row===0){
    const et=mk('text',{x:x0+W+1-endWidths[col],y:y0-8,'font-size':34,textLength:endWidths[col],lengthAdjust:'spacingAndGlyphs'},g);
    
    
    et.textContent=ends[col];
  }
  if(col===0){
    latTicks.forEach((lat,k)=>{
      const yl=mk('text',{x:74,y:yScale(lat)+11.5,'font-size':34,'text-anchor':'end'},g);
      
      
      yl.textContent=latTickLabels[k];
    });
  }
  if(row===3){
    lonTicks.forEach((lon,k)=>{
      const xl=mk('text',{x:xScale(lon),y:910.5,'font-size':34,'text-anchor':'middle'},g);
      
      
      xl.textContent=lonTickLabels[k];
    });
  }
});
// colorbar
const cb=document.getElementById('colorbar');
const cbX=230,cbW=603,cbY=972,cbH=23,cell=cbW/levelColors.length;
levelColors.forEach((c,k)=>{
  const r=mk('rect',{x:cbX+k*cell,y:cbY,width:cell,height:cbH,fill:c,stroke:'#222','stroke-width':1.6},cb);
  
  
});
colorbarTicks.forEach((v,k)=>{
  const t=mk('text',{x:cbX+(k+1)*cell,y:1023,'font-size':30,'text-anchor':'middle'},cb);
  
  
  t.textContent=String(v);
});
</script>
</body>
</html>
